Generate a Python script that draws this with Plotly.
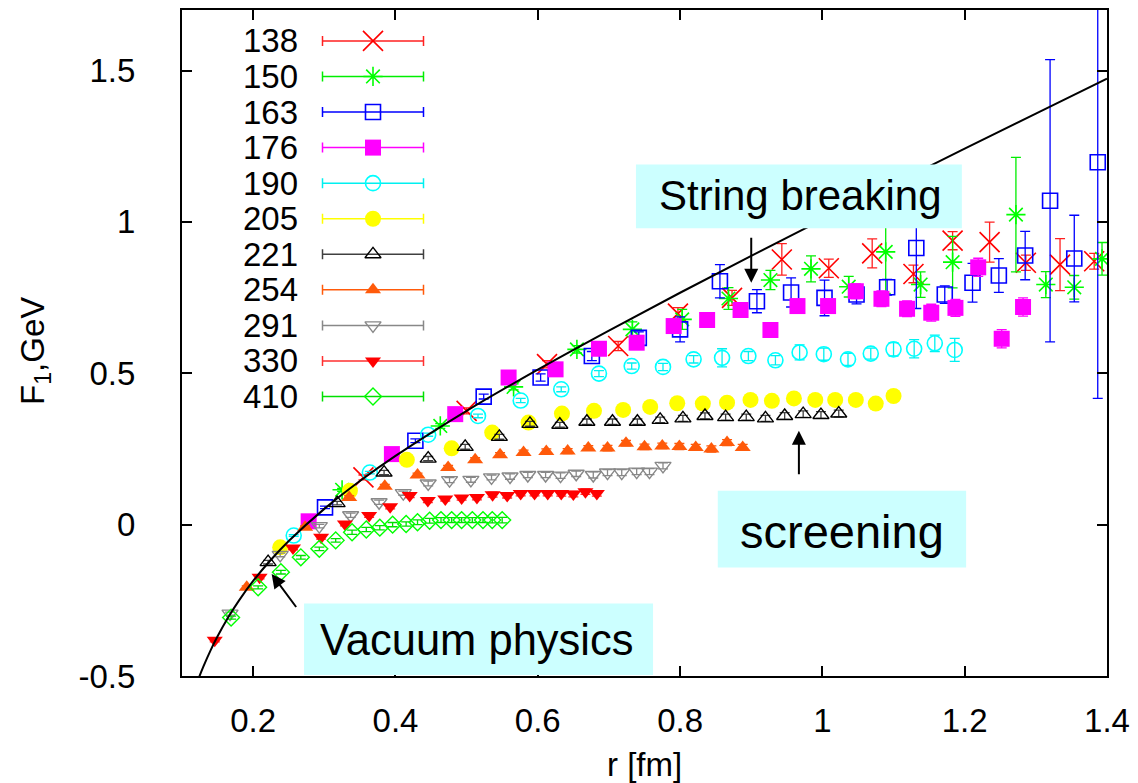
import plotly.graph_objects as go

# ---------------- data ----------------
labels = ["138", "150", "163", "176", "190", "205", "221", "254", "291", "330", "410"]

r138 = [0.355, 0.500, 0.613, 0.713, 0.797, 0.873, 0.943, 1.009, 1.070, 1.128, 1.183, 1.235, 1.286, 1.334, 1.382]
f138 = [0.156, 0.376, 0.530, 0.590, 0.697, 0.749, 0.876, 0.847, 0.896, 0.828, 0.938, 0.933, 0.865, 0.859, 0.870]
e138 = [0.008, 0.010, 0.012, 0.015, 0.020, 0.025, 0.052, 0.030, 0.048, 0.029, 0.030, 0.066, 0.025, 0.086, 0.026]

r150 = [0.325, 0.463, 0.566, 0.655, 0.733, 0.803, 0.868, 0.927, 0.984, 1.037, 1.089, 1.138, 1.183, 1.272, 1.314, 1.354, 1.393]
f150 = [0.115, 0.326, 0.455, 0.579, 0.645, 0.678, 0.747, 0.808, 0.845, 0.786, 0.901, 0.793, 0.867, 1.024, 0.793, 0.784, 0.878]
e150 = [0.005, 0.008, 0.010, 0.012, 0.025, 0.033, 0.036, 0.032, 0.043, 0.034, 0.137, 0.042, 0.085, 0.189, 0.043, 0.039, 0.054]

r163 = [0.301, 0.428, 0.524, 0.604, 0.676, 0.742, 0.800, 0.856, 0.908, 0.956, 1.003, 1.048, 1.091, 1.132, 1.172, 1.211, 1.248, 1.285, 1.320, 1.354, 1.387]
f163 = [0.057, 0.277, 0.423, 0.486, 0.557, 0.617, 0.645, 0.804, 0.738, 0.767, 0.749, 0.760, 0.784, 0.914, 0.760, 0.799, 0.823, 0.889, 1.070, 0.879, 1.197]
e163 = [0.004, 0.006, 0.008, 0.012, 0.015, 0.020, 0.041, 0.055, 0.038, 0.048, 0.059, 0.031, 0.026, 0.200, 0.029, 0.064, 0.056, 0.080, 0.466, 0.143, 0.780]

r176 = [0.278, 0.395, 0.484, 0.559, 0.625, 0.686, 0.739, 0.791, 0.838, 0.885, 0.927, 0.965, 1.008, 1.047, 1.083, 1.119, 1.153, 1.187, 1.219, 1.252, 1.282]
f176 = [0.011, 0.233, 0.365, 0.486, 0.513, 0.581, 0.601, 0.656, 0.676, 0.709, 0.643, 0.722, 0.722, 0.771, 0.746, 0.713, 0.700, 0.716, 0.850, 0.614, 0.719]
e176 = [0.005, 0.006, 0.008, 0.010, 0.012, 0.014, 0.016, 0.018, 0.020, 0.020, 0.022, 0.022, 0.024, 0.024, 0.026, 0.026, 0.028, 0.028, 0.030, 0.030, 0.030]

r190 = [0.257, 0.364, 0.446, 0.516, 0.576, 0.633, 0.686, 0.732, 0.776, 0.819, 0.859, 0.896, 0.934, 0.968, 1.002, 1.036, 1.068, 1.100, 1.129, 1.158, 1.186]
f190 = [-0.036, 0.172, 0.297, 0.359, 0.410, 0.447, 0.499, 0.524, 0.521, 0.546, 0.551, 0.557, 0.543, 0.569, 0.563, 0.546, 0.565, 0.579, 0.581, 0.599, 0.577]
e190 = [0.003, 0.004, 0.005, 0.006, 0.007, 0.008, 0.010, 0.010, 0.012, 0.012, 0.030, 0.015, 0.015, 0.025, 0.020, 0.020, 0.018, 0.022, 0.030, 0.027, 0.038]

r205 = [0.238, 0.336, 0.416, 0.479, 0.536, 0.587, 0.634, 0.679, 0.720, 0.758, 0.796, 0.832, 0.866, 0.899, 0.929, 0.960, 0.990, 1.018, 1.047, 1.075, 1.100]
f205 = [-0.075, 0.112, 0.214, 0.252, 0.304, 0.337, 0.367, 0.376, 0.379, 0.389, 0.401, 0.400, 0.403, 0.412, 0.409, 0.417, 0.412, 0.412, 0.412, 0.400, 0.425]
e205 = [0.004, 0.005, 0.006, 0.006, 0.007, 0.007, 0.008, 0.008, 0.009, 0.009, 0.010, 0.010, 0.010, 0.011, 0.011, 0.012, 0.012, 0.012, 0.013, 0.013, 0.014]

r221 = [0.221, 0.318, 0.384, 0.446, 0.498, 0.546, 0.589, 0.631, 0.669, 0.705, 0.740, 0.772, 0.804, 0.835, 0.864, 0.893, 0.920, 0.947, 0.973, 0.998, 1.023]
f221 = [-0.124, 0.071, 0.172, 0.218, 0.257, 0.290, 0.333, 0.330, 0.340, 0.340, 0.340, 0.346, 0.351, 0.359, 0.355, 0.355, 0.351, 0.359, 0.365, 0.362, 0.367]
e221 = [0.006, 0.006, 0.007, 0.007, 0.008, 0.008, 0.008, 0.008, 0.009, 0.009, 0.009, 0.009, 0.010, 0.010, 0.010, 0.010, 0.010, 0.011, 0.011, 0.011, 0.011]

r254 = [0.191, 0.273, 0.335, 0.385, 0.431, 0.474, 0.512, 0.547, 0.580, 0.612, 0.642, 0.671, 0.698, 0.724, 0.750, 0.775, 0.799, 0.822, 0.844, 0.866, 0.888]
f254 = [-0.207, -0.009, 0.090, 0.127, 0.164, 0.189, 0.214, 0.231, 0.238, 0.242, 0.243, 0.253, 0.253, 0.269, 0.257, 0.260, 0.258, 0.255, 0.250, 0.271, 0.255]
e254 = [0.005, 0.005, 0.006, 0.006, 0.006, 0.007, 0.007, 0.007, 0.008, 0.008, 0.008, 0.008, 0.009, 0.009, 0.009, 0.009, 0.010, 0.010, 0.010, 0.010, 0.010]

r291 = [0.1675, 0.238, 0.293, 0.337, 0.377, 0.411, 0.446, 0.476, 0.506, 0.535, 0.561, 0.586, 0.611, 0.632, 0.654, 0.678, 0.698, 0.718, 0.739, 0.757, 0.776]
f291 = [-0.294, -0.100, -0.005, 0.031, 0.074, 0.104, 0.136, 0.147, 0.148, 0.156, 0.159, 0.164, 0.164, 0.162, 0.168, 0.164, 0.172, 0.172, 0.175, 0.175, 0.194]
e291 = [0.005, 0.006, 0.006, 0.007, 0.007, 0.007, 0.008, 0.008, 0.008, 0.008, 0.009, 0.009, 0.009, 0.009, 0.009, 0.010, 0.010, 0.010, 0.010, 0.010, 0.010]

r330 = [0.146, 0.209, 0.256, 0.2955, 0.329, 0.363, 0.3925, 0.420, 0.4455, 0.470, 0.493, 0.5145, 0.5365, 0.557, 0.576, 0.5955, 0.614, 0.633, 0.650, 0.667, 0.683]
f330 = [-0.382, -0.174, -0.077, -0.042, 0.002, 0.030, 0.059, 0.096, 0.080, 0.085, 0.088, 0.090, 0.099, 0.096, 0.103, 0.103, 0.103, 0.103, 0.101, 0.109, 0.103]
e330 = [0.005, 0.005, 0.006, 0.006, 0.006, 0.006, 0.007, 0.007, 0.007, 0.007, 0.007, 0.008, 0.008, 0.008, 0.008, 0.008, 0.008, 0.009, 0.009, 0.009, 0.009]

r410 = [0.169, 0.207, 0.239, 0.267, 0.293, 0.316, 0.339, 0.359, 0.378, 0.396, 0.415, 0.431, 0.448, 0.464, 0.479, 0.493, 0.508, 0.523, 0.536, 0.550]
f410 = [-0.307, -0.207, -0.157, -0.108, -0.080, -0.052, -0.025, -0.016, -0.010, 0.000, 0.002, 0.008, 0.013, 0.015, 0.015, 0.015, 0.015, 0.015, 0.015, 0.015]
e410 = [0.005, 0.005, 0.006, 0.006, 0.006, 0.006, 0.007, 0.007, 0.007, 0.007, 0.007, 0.008, 0.008, 0.008, 0.008, 0.008, 0.008, 0.008, 0.009, 0.009]

# vacuum (Cornell-like) curve
r_curve = [0.122, 0.13, 0.14, 0.15, 0.165, 0.18, 0.2, 0.225, 0.25, 0.3, 0.35, 0.4, 0.5, 0.6, 0.7, 0.8, 0.9, 1.0, 1.1, 1.2, 1.3, 1.4]
f_curve = [-0.516, -0.469, -0.416, -0.369, -0.306, -0.251, -0.186, -0.116, -0.054, 0.052, 0.144, 0.227, 0.376, 0.512, 0.641, 0.766, 0.888, 1.007, 1.125, 1.242, 1.358, 1.473]

x_tickvals = [0.2, 0.4, 0.6, 0.8, 1.0, 1.2, 1.4]
x_ticktext = ["0.2", "0.4", "0.6", "0.8", "1", "1.2", "1.4"]
y_tickvals = [-0.5, 0, 0.5, 1.0, 1.5]
y_ticktext = ["-0.5", "0", "0.5", "1", "1.5"]

# ---------------- styles ----------------
FONT = "Liberation Sans, Arial, sans-serif"
series = [
    (r138, f138, e138, dict(symbol="x-thin-open", size=20, color="#ff0000", line=dict(width=1.6, color="#ff0000")), "#ff2020"),
    (r150, f150, e150, dict(symbol="asterisk-open", size=16, color="#00ff00", line=dict(width=1.6, color="#00ee00")), "#00ee00"),
    (r163, f163, e163, dict(symbol="square-open", size=15, color="#0000ff", line=dict(width=1.6, color="#0000ff")), "#0000ff"),
    (r176, f176, e176, dict(symbol="square", size=16, color="#ff00ff", line=dict(width=0)), "#ff00ff"),
    (r190, f190, e190, dict(symbol="circle-open", size=15, color="#00ffff", line=dict(width=1.6, color="#00f0f0")), "#00f0f0"),
    (r205, f205, e205, dict(symbol="circle", size=16, color="#ffff00", line=dict(width=0)), "#ffff00"),
    (r221, f221, e221, dict(symbol="triangle-up-open", size=14, color="#000000", line=dict(width=1.4, color="#000000")), "#404040"),
    (r254, f254, e254, dict(symbol="triangle-up", size=14, color="#ff5a0a", line=dict(width=0)), "#ff5a0a"),
    (r291, f291, e291, dict(symbol="triangle-down-open", size=14, color="#888888", line=dict(width=1.4, color="#888888")), "#888888"),
    (r330, f330, e330, dict(symbol="triangle-down", size=14, color="#ff0000", line=dict(width=0)), "#ff3030"),
    (r410, f410, e410, dict(symbol="diamond-open", size=13, color="#00ff00", line=dict(width=1.4, color="#00e000")), "#00e000"),
]

fig = go.Figure()

for (r, f, e, mk, ecol) in series:
    fig.add_trace(go.Scatter(
        x=r, y=f, mode="markers", marker=mk, showlegend=False,
        error_y=dict(type="data", array=e, visible=True, color=ecol, thickness=1.3, width=5),
        cliponaxis=True,
    ))

fig.add_trace(go.Scatter(x=r_curve, y=f_curve, mode="lines", line=dict(color="black", width=2, shape="spline"),
                         showlegend=False))

# ---------------- custom gnuplot-style key (text left, sample right) ----------------
key_text_x = 118      # px from plot left (right edge of label)
key_mark_x = 191      # px from plot left
key_half = 50.5       # half length of sample line
key_y0 = 31
key_dy = 35.67
for i, (lab, (r, f, e, mk, ecol)) in enumerate(zip(labels, series)):
    yy = key_y0 + key_dy * i
    fig.add_trace(go.Scatter(
        x=[key_mark_x], y=[yy], mode="markers", marker=mk, showlegend=False,
        xaxis="x2", yaxis="y2",
        error_x=dict(type="constant", value=key_half, visible=True, color=ecol, thickness=1.5, width=5),
    ))
    fig.add_annotation(x=key_text_x, y=yy, xref="x2", yref="y2", text=lab, showarrow=False,
                       xanchor="right", yanchor="middle", font=dict(size=33, color="black", family=FONT))

# ---------------- boxes & arrows ----------------
box_color = "#ccffff"
boxes = [
    (0.738, 1.196, 0.979, 1.190),    # String breaking
    (0.853, 1.202, -0.142, 0.112),   # screening
    (0.2715, 0.762, -0.497, -0.2605),  # Vacuum physics
]
for (x0, x1, y0, y1) in boxes:
    fig.add_shape(type="rect", xref="x", yref="y", x0=x0, x1=x1, y0=y0, y1=y1,
                  fillcolor=box_color, line=dict(width=0), layer="above")

fig.add_annotation(x=0.969, y=1.088, xref="x", yref="y", text="String breaking", showarrow=False,
                   font=dict(size=42, color="black", family=FONT))
fig.add_annotation(x=1.028, y=-0.024, xref="x", yref="y", text="screening", showarrow=False,
                   font=dict(size=47, color="black", family=FONT))
fig.add_annotation(x=0.515, y=-0.382, xref="x", yref="y", text="Vacuum physics", showarrow=False,
                   font=dict(size=43.5, color="black", family=FONT))

arrows = [
    (0.900, 0.953, 0.900, 0.799),
    (0.967, 0.1615, 0.967, 0.310),
    (0.262, -0.277, 0.226, -0.163),
]
for (tx, ty, hx, hy) in arrows:
    fig.add_annotation(x=hx, y=hy, ax=tx, ay=ty, xref="x", yref="y", axref="x", ayref="y",
                       text="", showarrow=True, arrowhead=2, arrowsize=1.4, arrowwidth=2, arrowcolor="black")

# axis titles
fig.add_annotation(x=-0.159, y=0.488, xref="paper", yref="paper", text="F<sub>1</sub>,GeV", textangle=-90,
                   showarrow=False, xanchor="center", yanchor="middle", font=dict(size=33, color="black", family=FONT))
fig.add_annotation(x=0.5005, y=-0.133, xref="paper", yref="paper", text="r [fm]",
                   showarrow=False, xanchor="center", yanchor="middle", font=dict(size=33, color="black", family=FONT))

axis_common = dict(showgrid=False, zeroline=False, showline=True, linewidth=2, linecolor="black",
                   mirror="ticks", ticks="inside", ticklen=10, tickwidth=1.5, tickcolor="black",
                   tickfont=dict(size=33, color="black", family=FONT))

fig.update_layout(
    width=1138, height=783,
    margin=dict(l=182, r=31, t=8, b=107),
    paper_bgcolor="white", plot_bgcolor="white",
    font=dict(family=FONT, color="black"),
    xaxis=dict(range=[0.1, 1.4], tickvals=x_tickvals, ticktext=x_ticktext, ticklabelstandoff=14, **axis_common),
    yaxis=dict(range=[-0.5, 1.7], tickvals=y_tickvals, ticktext=y_ticktext, ticklabelstandoff=38, **axis_common),
    xaxis2=dict(overlaying="x", range=[0, 925], visible=False, anchor="y2"),
    yaxis2=dict(overlaying="y", range=[668, 0], visible=False, anchor="x2"),
    showlegend=False,
)

fig.write_html("out.html")
